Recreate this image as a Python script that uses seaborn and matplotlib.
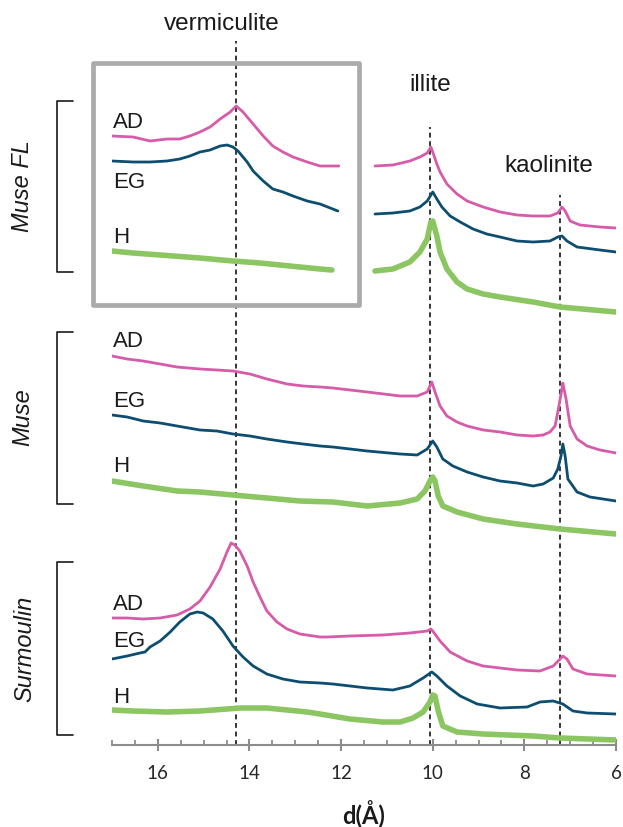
import matplotlib
matplotlib.use("Agg")
import matplotlib.pyplot as plt
import matplotlib.transforms as mtrans
from matplotlib.patches import Rectangle
from matplotlib.ticker import MultipleLocator
import seaborn as sns

sns.set_style("white")
plt.rcParams["font.family"] = ["Liberation Sans", "DejaVu Sans"]

PINK = "#d65ba8"
BLUE = "#0d4e70"
GREEN = "#8cc663"

# ---------------- data: d-spacing (Å) and relative intensity ----------------
# Muse FL (two segments, interrupted between ~12 and ~11.3 Å)
fl_ad_d1 = [17.0, 16.54, 16.17, 15.80, 15.52, 15.30, 15.08, 14.86, 14.64, 14.42, 14.29, 14.14, 13.92, 13.70, 13.49, 13.27, 13.05, 12.74, 12.46, 12.05]
fl_ad_i1 = [609, 608, 604, 606, 606, 609, 613, 618, 626, 633, 639, 633, 621, 609, 599, 593, 588, 583, 579, 579]
fl_ad_d2 = [11.26, 10.87, 10.50, 10.28, 10.12, 10.04, 10.00, 9.91, 9.84, 9.69, 9.47, 9.25, 8.90, 8.53, 8.16, 7.81, 7.44, 7.27, 7.18, 7.11, 7.00, 6.79, 6.35, 6.00]
fl_ad_i2 = [579, 580, 584, 588, 592, 598, 593, 581, 573, 561, 551, 544, 538, 533, 530, 529, 529, 532, 538, 534, 524, 520, 518, 517]

fl_eg_d1 = [17.0, 16.54, 16.17, 15.80, 15.52, 15.30, 15.08, 14.86, 14.64, 14.49, 14.36, 14.25, 14.05, 13.92, 13.70, 13.49, 13.27, 13.05, 12.74, 12.46, 12.07]
fl_eg_i1 = [584, 583, 583, 584, 586, 589, 593, 595, 599, 600, 598, 594, 583, 574, 564, 556, 553, 549, 544, 541, 534]
fl_eg_d2 = [11.26, 10.87, 10.50, 10.28, 10.12, 10.00, 9.91, 9.80, 9.62, 9.40, 9.12, 8.82, 8.53, 8.16, 7.81, 7.44, 7.27, 7.18, 7.07, 6.85, 6.35, 6.00]
fl_eg_i2 = [531, 532, 534, 538, 544, 553, 546, 538, 529, 523, 516, 511, 508, 504, 503, 504, 508, 509, 504, 498, 495, 493]

fl_h_d1 = [17.0, 16.54, 15.95, 15.08, 14.36, 13.77, 13.12, 12.46, 12.20]
fl_h_i1 = [494, 492, 490, 487, 484, 482, 479, 476, 475]
fl_h_d2 = [11.26, 10.87, 10.50, 10.28, 10.12, 10.04, 10.00, 9.91, 9.84, 9.69, 9.47, 9.25, 8.90, 8.53, 7.81, 7.22, 6.00]
fl_h_i2 = [474, 476, 483, 493, 506, 523, 524, 509, 493, 476, 463, 456, 451, 448, 443, 438, 433]

# Muse
mu_ad_d = [17.0, 16.67, 16.32, 15.95, 15.58, 15.08, 14.71, 14.36, 13.99, 13.62, 13.18, 12.83, 12.46, 12.18, 11.43,
           10.71, 10.34, 10.12, 10.02, 9.95, 9.84, 9.69, 9.47, 9.25, 8.90, 8.53, 8.16, 7.81, 7.59, 7.44, 7.33,
           7.27, 7.18, 7.16, 7.09, 7.00, 6.85, 6.63, 6.35, 6.00]
mu_ad_i = [389, 386, 384, 381, 378, 376, 375, 374, 371, 366, 361, 359, 358, 357, 353,
           349, 349, 353, 363, 353, 339, 329, 323, 319, 315, 313, 310, 309, 310, 313, 319,
           333, 356, 362, 346, 319, 306, 299, 295, 292]

mu_eg_d = [17.0, 16.67, 16.32, 15.95, 15.58, 15.08, 14.71, 14.36, 13.99, 13.62, 13.18, 12.83, 12.46, 12.18, 11.43,
           10.71, 10.34, 10.12, 10.00, 9.91, 9.78, 9.56, 9.25, 8.90, 8.53, 8.16, 7.81, 7.59, 7.37, 7.27, 7.20,
           7.16, 7.11, 7.05, 6.85, 6.57, 6.00]
mu_eg_i = [330, 328, 324, 322, 319, 315, 314, 311, 309, 306, 303, 301, 299, 298, 294,
           291, 290, 296, 304, 298, 286, 279, 273, 268, 264, 262, 259, 261, 267, 276, 289,
           301, 289, 266, 253, 248, 244]

mu_h_d = [17.0, 16.32, 15.58, 15.08, 14.36, 13.62, 12.90, 12.18, 11.43, 10.71, 10.34, 10.17, 10.06, 10.00, 9.95,
          9.88, 9.78, 9.47, 8.90, 8.16, 7.22, 6.00]
mu_h_i = [264, 259, 254, 253, 250, 247, 244, 243, 239, 242, 246, 254, 264, 268, 264,
          249, 239, 233, 226, 221, 216, 211]

# Surmoulin
su_ad_d = [17.0, 16.67, 16.32, 15.95, 15.58, 15.30, 15.08, 14.86, 14.64, 14.49, 14.40, 14.32, 14.21, 14.05, 13.92,
           13.77, 13.62, 13.40, 13.18, 12.90, 12.46, 12.31, 11.81, 11.09, 10.50, 10.12, 10.04, 10.00, 9.84, 9.62,
           9.25, 8.90, 8.16, 7.66, 7.37, 7.22, 7.16, 7.07, 6.94, 6.63, 6.00]
su_ad_i = [127, 127, 126, 127, 130, 136, 144, 158, 176, 193, 202, 200, 194, 179, 163,
           148, 134, 123, 116, 111, 108, 108, 109, 110, 112, 114, 116, 114, 104, 93,
           84, 79, 75, 74, 79, 86, 89, 86, 76, 71, 69]

su_eg_d = [17.0, 16.67, 16.39, 16.28, 16.17, 15.95, 15.73, 15.52, 15.30, 15.14, 15.01, 14.80, 14.58, 14.36, 14.14,
           13.92, 13.62, 13.27, 12.90, 12.46, 12.18, 11.43, 10.87, 10.50, 10.21, 10.02, 9.91, 9.69, 9.40, 9.03,
           8.53, 7.94, 7.66, 7.37, 7.16, 6.94, 6.63, 6.00]
su_eg_i = [86, 89, 92, 93, 98, 104, 113, 123, 131, 133, 132, 126, 114, 99, 88,
           79, 71, 66, 63, 62, 61, 57, 55, 59, 67, 73, 69, 59, 49, 41,
           37, 38, 43, 44, 41, 34, 32, 31]

su_h_d = [17.0, 16.54, 15.80, 15.08, 14.49, 14.21, 13.62, 13.18, 12.74, 12.46, 11.81, 11.09, 10.71, 10.43, 10.21,
          10.06, 10.00, 9.95, 9.88, 9.78, 9.47, 8.90, 7.81, 7.22, 6.00]
su_h_i = [35, 34, 33, 34, 36, 37, 37, 35, 33, 31, 26, 23, 23, 27, 33,
          43, 50, 49, 34, 19, 13, 11, 9, 7, 5]

# Reference peaks
minerals = ["vermiculite", "illite", "kaolinite"]
peak_d = [14.29, 10.06, 7.22]
peak_top = [704, 618, 550]

treatments = ["AD", "EG", "H"]
samples = ["Muse FL", "Muse", "Surmoulin"]
x_ticks = [16, 14, 12, 10, 8, 6]

# ---------------- figure ----------------
W, H = 623, 828
fig = plt.figure(figsize=(W / 100, H / 100), dpi=100)
ax = fig.add_axes([112 / W, 82 / H, 504 / W, 746 / H])
px = mtrans.Affine2D().scale(1 / W, -1 / H).translate(0, 1) + fig.transFigure

# dashed reference lines
ax.vlines(peak_d, 0, peak_top, colors="black", linestyles=(0, (3.2, 2.4)), linewidth=1.1, zorder=1)

curves = [
    (fl_ad_d1, fl_ad_i1, PINK, 2.0), (fl_ad_d2, fl_ad_i2, PINK, 2.0),
    (fl_eg_d1, fl_eg_i1, BLUE, 2.0), (fl_eg_d2, fl_eg_i2, BLUE, 2.0),
    (fl_h_d1, fl_h_i1, GREEN, 4.0), (fl_h_d2, fl_h_i2, GREEN, 4.0),
    (mu_ad_d, mu_ad_i, PINK, 2.0), (mu_eg_d, mu_eg_i, BLUE, 2.0), (mu_h_d, mu_h_i, GREEN, 4.0),
    (su_ad_d, su_ad_i, PINK, 2.0), (su_eg_d, su_eg_i, BLUE, 2.0), (su_h_d, su_h_i, GREEN, 4.0),
]
for d, i, c, lw in curves:
    sns.lineplot(x=d, y=i, ax=ax, color=c, linewidth=lw, sort=False, estimator=None, zorder=3)

ax.set_xlim(17, 6)
ax.set_ylim(0, 746)
ax.set_yticks([])
ax.set_ylabel("")
for s in ["left", "top", "right"]:
    ax.spines[s].set_visible(False)
ax.spines["bottom"].set_color("#8c8c8c")
ax.spines["bottom"].set_linewidth(1.5)
ax.patch.set_alpha(0)

ax.set_xticks(x_ticks)
ax.xaxis.set_minor_locator(MultipleLocator(0.5))
ax.tick_params(axis="x", which="both", bottom=True)
ax.tick_params(axis="x", which="major", direction="inout", length=8, width=1.5,
               color="#8c8c8c", labelsize=13.5, labelcolor="#262626", pad=9.5,
               labelfontfamily="Lato")
ax.tick_params(axis="x", which="minor", direction="in", length=3.5, width=1.3, color="#8c8c8c")
ax.set_xlabel("d(Å)", fontfamily="Lato", fontweight="bold", fontsize=17, labelpad=13, color="#1a1a1a")

# grey box around the Muse FL low-angle part
ax.add_patch(Rectangle((93, 64), 266, 242, transform=px, fill=False, ec="#ababab",
                       lw=3.4, joinstyle="round", clip_on=False, zorder=2))

# mineral labels
for name, (xx, yy) in zip(minerals, [(222, 24), (430, 85), (549, 166)]):
    ax.text(xx, yy, name, transform=px, ha="center", va="center", fontsize=17.5, color="#1a1a1a")

# treatment labels (baseline positions in pixels)
lab_y = [[128, 188, 243], [347, 407, 472], [610, 647, 703]]
for row in lab_y:
    for t, yy in zip(treatments, row):
        ax.text(113, yy, t, transform=px, ha="left", va="baseline", fontsize=16, color="#1a1a1a")

# brackets and sample names
brackets = [(102, 273), (333, 505), (563, 736)]
name_pos = [(23, 186), (23, 417), (25, 649)]
for (y0, y1), nm, (nx, ny) in zip(brackets, samples, name_pos):
    ax.plot([73, 57, 57, 73], [y0, y0, y1, y1], transform=px, color="#1a1a1a",
            lw=1.2, clip_on=False)
    ax.text(nx, ny, nm, transform=px, rotation=90, ha="center", va="center",
            fontsize=17, fontstyle="italic", color="#1a1a1a")

fig.savefig("out.png", dpi=100)
